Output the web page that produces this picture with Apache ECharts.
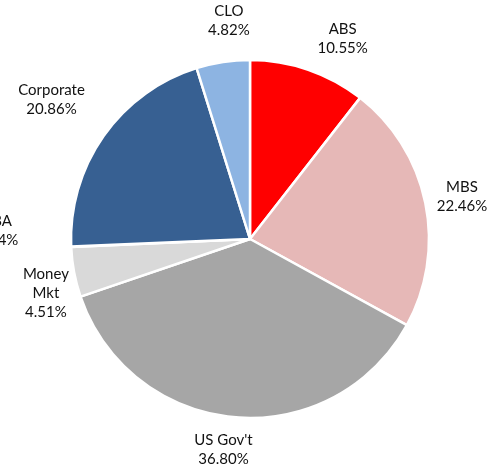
<!DOCTYPE html>
<html>
<head>
<meta charset="utf-8">
<script src="https://cdn.jsdelivr.net/npm/echarts@6/dist/echarts.min.js"></script>
<style>
  html, body { margin: 0; padding: 0; background: #fff; }
  #chart { width: 494px; height: 468px; }
</style>
</head>
<body>
<div id="chart"></div>
<script>
// sectors, clockwise from 12 o'clock
const categories = ['ABS', 'MBS', "US Gov't", 'Money Mkt', 'TBA', 'Corporate', 'CLO'];
const values = [10.55, 22.46, 36.80, 4.51, 0.04, 20.86, 4.82];
const colors = ['#FF0000', '#E6B8B7', '#A6A6A6', '#D9D9D9', '#7F7F7F', '#376092', '#8DB4E2'];

const CX = 250, CY = 239, R = 179;
const GAP = 12;
// labels dragged by hand in the original
const nudge = {
  'ABS': [22, 5],
  'MBS': [-3, 2],
  "US Gov't": [-8, -1],
  'Money Mkt': [11, 14],
  'TBA': [-40, -18],
  'Corporate': [-11, -7],
  'CLO': [11, -8]
};
const wrapNames = ['Money Mkt'];

const total = values.reduce((a, b) => a + b, 0);
const cum = [];
values.reduce((acc, v, i) => { cum[i] = acc; return acc + v; }, 0);

const chart = echarts.init(document.getElementById('chart'), null, {renderer: 'canvas'});
chart.setOption({
  animation: false,
  backgroundColor: '#fff',
  series: [{
    type: 'pie',
    center: [CX, CY],
    radius: R,
    startAngle: 90,
    clockwise: true,
    avoidLabelOverlap: false,
    emphasis: {disabled: true},
    itemStyle: {borderColor: '#fff', borderWidth: 2.5},
    label: {
      show: true,
      position: 'outside',
      color: '#111',
      fontFamily: 'Lato',
      fontSize: 15,
      lineHeight: 19,
      align: 'center',
      formatter: function (p) {
        const name = wrapNames.includes(p.name) ? p.name.replace(' ', '\n') : p.name;
        return name + '\n' + p.value.toFixed(2) + '%';
      }
    },
    labelLine: {show: false},
    labelLayout: function (p) {
      const i = p.dataIndex;
      const mid = (cum[i] + values[i] / 2) / total * 2 * Math.PI;
      const ux = Math.sin(mid), uy = -Math.cos(mid);
      const w = p.labelRect.width, h = p.labelRect.height;
      const d = R + GAP + Math.abs(ux) * w / 2 + Math.abs(uy) * h / 2;
      const n = nudge[categories[i]] || [0, 0];
      return {
        x: CX + d * ux + n[0],
        y: CY + d * uy + n[1],
        align: 'center',
        verticalAlign: 'middle'
      };
    },
    data: categories.map((c, i) => ({
      name: c,
      value: values[i],
      itemStyle: {color: colors[i]}
    }))
  }]
});
</script>
</body>
</html>
